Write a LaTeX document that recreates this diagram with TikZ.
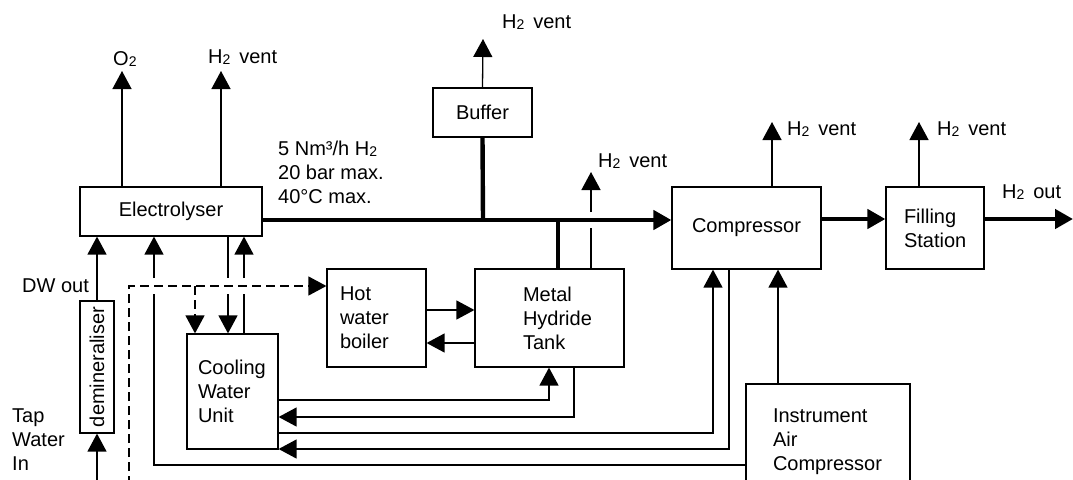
\documentclass[tikz,border=0pt]{standalone}
\usepackage{fontspec}
\setmainfont{Liberation Sans}
\usetikzlibrary{arrows.meta,calc}

\newcommand{\low}[1]{\raisebox{-1pt}{\fontsize{14}{14}\selectfont #1}}
\newcommand{\bigfont}{\fontsize{20}{24}\selectfont}

\tikzset{
  box/.style={draw,line width=1.2pt,inner sep=0pt},
  pipe/.style={line width=1.3pt},
  gas/.style={line width=4.4pt},
  heat/.style={line width=1.3pt,dash pattern=on 9pt off 5pt},
  arr/.style={-{Triangle[width=19pt,length=18pt]}},
}

\begin{document}
\begin{tikzpicture}[x=1pt,y=-1pt,line join=miter,font=\bigfont]
\useasboundingbox (0,0) rectangle (1073,479);
\clip (0,0) rectangle (1073,479);

% units
\node[box,minimum width=182pt,minimum height=49pt] (elec) at (171,211.5) {Electrolyser};
\node[box,minimum width=34pt,minimum height=132pt] (demin) at (97,367) {\rotatebox{90}{demineraliser}};
\node[box,minimum width=99pt,minimum height=49pt] (buffer) at (482.5,112.5) {Buffer};
\node[box,minimum width=149pt,minimum height=82pt] (comp) at (746.5,228) {Compressor};
\node[box,text width=62pt,align=left,minimum width=98pt,minimum height=82pt] (fill) at (935,228) {Filling\\Station};
\node[box,text width=73pt,inner xsep=13pt,align=left,minimum height=98pt] (boiler) at (376.5,318) {Hot\\water\\boiler};
\node[box,text width=53pt,inner xsep=48pt,align=left,minimum height=98pt] (mh) at (549.5,318) {Metal\\Hydride\\Tank};
\node[box,text width=69pt,inner xsep=11pt,align=left,minimum height=115pt] (cwu) at (232.5,391.5) {Cooling\\Water\\Unit};
\node[box,text width=110pt,inner xsep=27pt,align=left,minimum height=116pt] (iac) at (828,442) {Instrument\\Air\\Compressor};

% outlets and bends
\coordinate (o2) at (122,71);
\coordinate (v1) at (221,71);
\coordinate (v2) at (483,39);
\coordinate (v3) at (591,172);
\coordinate (v4) at (772,122);
\coordinate (v5) at (919,122);
\coordinate (out) at (1073,219);
\coordinate (bus) at (483,220);
\coordinate (tee) at (558,220);
\coordinate (tap) at (97,485);
\coordinate (dbot) at (129,485);
\coordinate (dtop) at (129,286);
\coordinate (dcw) at (195,286);
\coordinate (cwa) at (228,286);
\coordinate (cwb) at (244,286);
\coordinate (ia) at (154,465);
\coordinate (h1) at (549,400);
\coordinate (h2) at (574,417);
\coordinate (h3) at (713,433);
\coordinate (h4) at (729,449);
\coordinate (h5) at (778,300);

% vents
\draw[pipe,arr] (o2 |- elec.north) -- (o2);
\draw[pipe,arr] (v1 |- elec.north) -- (v1);
\draw[pipe,arr] (buffer.north) -- (v2);
\draw[pipe,arr] (v4 |- comp.north) -- (v4);
\draw[pipe,arr] (v5 |- fill.north) -- (v5);
\draw[pipe] (v3 |- mh.north) -- ($(v3 |- bus)+(0,8)$);
\draw[pipe,arr] ($(v3 |- bus)+(0,-8)$) -- (v3);

% hydrogen line
\draw[gas,arr] (bus -| elec.east) -- (bus -| comp.west);
\draw[gas] (buffer.south) -- (bus);
\draw[gas] (tee) -- (tee |- mh.north);
\draw[gas,arr] ([yshift=9pt]comp.east) -- ([yshift=9pt]fill.west);
\draw[gas,arr] ([yshift=9pt]fill.east) -- (out);

% water
\draw[pipe,arr] (tap) -- (demin.south);
\draw[pipe,arr] (demin.north) -- (demin.north |- elec.south);
\draw[pipe] (cwa |- elec.south) -- ($(cwa)+(0,-8)$);
\draw[pipe,arr] ($(cwa)+(0,8)$) -- (cwa |- cwu.north);
\draw[pipe] (cwb |- cwu.north) -- ($(cwb)+(0,8)$);
\draw[pipe,arr] ($(cwb)+(0,-8)$) -- (cwb |- elec.south);
\draw[pipe] (ia -| iac.west) -- (ia) -- ($(ia |- dtop)+(0,8)$);
\draw[pipe,arr] ($(ia |- dtop)+(0,-8)$) -- (ia |- elec.south);

% hot water
\draw[heat,arr] (dbot) -- (dtop) -- (dtop -| boiler.west);
\draw[heat,arr] (dcw) -- (dcw |- cwu.north);
\draw[pipe,arr] ([yshift=8pt]boiler.east) -- ([yshift=8pt]mh.west);
\draw[pipe,arr] ([yshift=-25pt]mh.west) -- ([yshift=-25pt]boiler.east);

% cooling circuits
\draw[pipe,arr] (h1 -| cwu.east) -- (h1) -- (h1 |- mh.south);
\draw[pipe,arr] (h2 |- mh.south) -- (h2) -- (h2 -| cwu.east);
\draw[pipe,arr] (h3 -| cwu.east) -- (h3) -- (h3 |- comp.south);
\draw[pipe,arr] (h4 |- comp.south) -- (h4) -- (h4 -| cwu.east);
\draw[pipe,arr] (h5 |- iac.north) -- (h5 |- comp.south);

% labels
\node[anchor=base west,inner sep=0pt] (lo2) at (113,65) {O\low{2}};
\node[anchor=base west,inner sep=0pt] (lv1) at (208,63) {H\low{2}\, vent};
\node[anchor=base west,inner sep=0pt] (lv2) at (502,28) {H\low{2}\, vent};
\node[anchor=base west,inner sep=0pt] (lv3) at (598,167) {H\low{2}\, vent};
\node[anchor=base west,inner sep=0pt] (lv4) at (787,135) {H\low{2}\, vent};
\node[anchor=base west,inner sep=0pt] (lv5) at (937,135) {H\low{2}\, vent};
\node[anchor=base west,inner sep=0pt] (lout) at (1002,198) {H\low{2}\, out};
\node[anchor=north west,inner sep=0pt,align=left] (lflow) at (278,140.5) {5 Nm³/h H\low{2}\\20 bar max.\\40°C max.};
\node[anchor=base west,inner sep=0pt] (ldw) at (22,292) {DW out};
\node[anchor=north west,inner sep=0pt,align=left] (ltap) at (12,408.5) {Tap\\Water\\In};

\end{tikzpicture}
\end{document}
